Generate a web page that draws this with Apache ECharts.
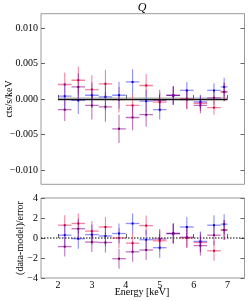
<!DOCTYPE html>
<html><head><meta charset="utf-8">
<script src="https://cdn.jsdelivr.net/npm/echarts@6/dist/echarts.min.js"></script>
<style>html,body{margin:0;padding:0;background:#fff}#c{width:249px;height:301px}</style>
</head><body><div id="c"></div><script>
// Energy bins (keV)
const energy = [2.2, 2.6, 3.0, 3.4, 3.8, 4.2, 4.6, 5.0, 5.4, 5.8, 6.2, 6.6, 6.9];
const halfWidth = [0.2, 0.2, 0.2, 0.2, 0.2, 0.2, 0.2, 0.2, 0.2, 0.2, 0.2, 0.2, 0.1];
// Top panel: cts/s/keV
const redRate = [0.00204, 0.00264, 0.00133, 0.00213, -0.0001, -0.0009, 0.0019, -0.00045, 0.0005, 0.0000, -0.0006, -0.0012, 0.0010];
const redErr = [0.0017, 0.0019, 0.0020, 0.0020, 0.0018, 0.0016, 0.0016, 0.0013, 0.0013, 0.0014, 0.0011, 0.0010, 0.0013];
const blueRate = [0.0004, -0.0002, 0.00053, 0.0003, 0.00053, 0.0024, -0.0003, -0.0015, 0.0005, 0.0012, -0.0004, 0.0012, 0.0017];
const blueErr = [0.0018, 0.0019, 0.0018, 0.0019, 0.0019, 0.0018, 0.0016, 0.0014, 0.0013, 0.0012, 0.0010, 0.0010, 0.0013];
const purpleRate = [-0.0015, 0.0017, -0.0009, -0.0011, -0.0042, -0.0026, -0.0022, -0.0002, 0.0005, -0.00007, -0.0009, 0.00017, 0.0010];
const purpleErr = [0.0016, 0.0019, 0.0020, 0.0021, 0.0020, 0.0018, 0.0017, 0.0015, 0.0013, 0.0013, 0.0011, 0.0010, 0.0013];
// Bottom panel: (data-model)/error
const redResid = [1.28, 1.45, 0.69, 1.1, 0.0, -0.52, 1.24, -0.28, 0.45, 0.0, -0.45, -1.28, 0.8];
const blueResid = [0.28, -0.07, 0.34, 0.2, 0.45, 1.45, -0.17, -0.97, 0.45, 1.1, -0.34, 1.28, 1.38];
const purpleResid = [-0.86, 0.93, -0.41, -0.45, -2.07, -1.38, -1.2, -0.1, 0.45, 0.07, -0.76, 0.28, 0.8];
const residErr = 1;
// Model
const modelX = [2.0, 7.0];
const modelY = [-0.0001, -0.0001];
// Ticks
const xTicks = [2, 3, 4, 5, 6, 7];
const yTopTicks = [-0.010, -0.005, 0.000, 0.005, 0.010];
const yBotTicks = [-4, -2, 0, 2, 4];

const FONT = 'Liberation Serif';
const minus = s => String(s).replace('-', '\u2212');

function pts(rate, err) {
  return energy.map((e, i) => [e, rate[i], halfWidth[i], err[i]]);
}
function residPts(res) {
  return energy.map((e, i) => [e, res[i], halfWidth[i], residErr]);
}
function crossSeries(data, xi, yi, line, center) {
  return {
    type: 'custom', xAxisIndex: xi, yAxisIndex: yi, data: data, clip: true, z: 3,
    renderItem: function (params, api) {
      const x = api.value(0), y = api.value(1), dx = api.value(2), dy = api.value(3);
      const l = api.coord([x - dx, y]), r = api.coord([x + dx, y]);
      const t = api.coord([x, y + dy]), b = api.coord([x, y - dy]);
      const c = api.coord([x, y]);
      return {
        type: 'group', children: [
          {type: 'line', shape: {x1: l[0], y1: l[1], x2: r[0], y2: r[1]}, style: {stroke: line, lineWidth: 1.3}},
          {type: 'line', shape: {x1: t[0], y1: t[1], x2: b[0], y2: b[1]}, style: {stroke: line, lineWidth: 1.1}},
          {type: 'rect', shape: {x: c[0] - 1, y: c[1] - 1, width: 2, height: 2}, style: {fill: center}}
        ]
      };
    }
  };
}
const RED = ['rgba(240,30,80,0.55)', '#dd0035'];
const BLUE = ['rgba(30,30,255,0.5)', '#0000dd'];
const PURP = ['rgba(135,0,135,0.55)', '#7a007a'];

const tickStyle = {show: true, inside: true, length: 4, lineStyle: {color: '#666', width: 1}};
const chart = echarts.init(document.getElementById('c'), null, {renderer: 'canvas'});
chart.setOption({
  animation: false,
  backgroundColor: '#fff',
  grid: [
    {left: 41, right: 4.5, top: 13.7, height: 170.6, show: true, borderColor: '#9a9a9a', borderWidth: 1, backgroundColor: 'transparent'},
    {left: 41, right: 4.5, top: 198, height: 80, show: true, borderColor: '#9a9a9a', borderWidth: 1, backgroundColor: 'transparent'}
  ],
  xAxis: [
    {gridIndex: 0, type: 'value', min: 1.5, max: 7.5, axisLine: {show: false}, splitLine: {show: false},
     axisTick: Object.assign({customValues: xTicks}, tickStyle), axisLabel: {show: false}},
    {gridIndex: 1, type: 'value', min: 1.5, max: 7.5, axisLine: {show: false}, splitLine: {show: false},
     axisTick: Object.assign({customValues: xTicks}, tickStyle),
     axisLabel: {customValues: xTicks, fontFamily: FONT, fontSize: 10, color: '#000', margin: 2}}
  ],
  yAxis: [
    {gridIndex: 0, type: 'value', min: -0.012, max: 0.012, axisLine: {show: false}, splitLine: {show: false},
     axisTick: Object.assign({customValues: yTopTicks}, tickStyle),
     axisLabel: {customValues: yTopTicks, fontFamily: FONT, fontSize: 10, color: '#000', margin: 3,
       formatter: v => minus(Number(v).toFixed(3))}},
    {gridIndex: 0, type: 'value', position: 'right', min: -0.012, max: 0.012, axisLine: {show: false}, splitLine: {show: false},
     axisTick: Object.assign({customValues: yTopTicks}, tickStyle), axisLabel: {show: false}},
    {gridIndex: 1, type: 'value', min: -4, max: 4, interval: 2, axisLine: {show: false}, splitLine: {show: false},
     axisTick: Object.assign({customValues: yBotTicks}, tickStyle),
     axisLabel: {customValues: yBotTicks, fontFamily: FONT, fontSize: 10, color: '#000', margin: 3,
       formatter: v => minus(v)}},
    {gridIndex: 1, type: 'value', position: 'right', min: -4, max: 4, axisLine: {show: false}, splitLine: {show: false},
     axisTick: Object.assign({customValues: yBotTicks}, tickStyle), axisLabel: {show: false}}
  ],
  series: [
    {type: 'line', xAxisIndex: 0, yAxisIndex: 0, data: modelX.map((x, i) => [x, modelY[i] + 0.00012]), symbol: 'none',
     lineStyle: {color: 'rgba(120,120,120,0.6)', width: 2.5}, z: 2, silent: true},
    crossSeries(pts(redRate, redErr), 0, 0, RED[0], RED[1]),
    crossSeries(pts(blueRate, blueErr), 0, 0, BLUE[0], BLUE[1]),
    crossSeries(pts(purpleRate, purpleErr), 0, 0, PURP[0], PURP[1]),
    {type: 'line', xAxisIndex: 0, yAxisIndex: 0, data: modelX.map((x, i) => [x, modelY[i]]), symbol: 'none',
     lineStyle: {color: '#111', width: 1.3}, z: 5, silent: true},
    {type: 'line', xAxisIndex: 1, yAxisIndex: 2, data: [[1.5, 0], [7.5, 0]], symbol: 'none',
     lineStyle: {color: '#000', width: 1, type: [1.5, 1.5]}, z: 2, silent: true},
    crossSeries(residPts(redResid), 1, 2, RED[0], RED[1]),
    crossSeries(residPts(blueResid), 1, 2, BLUE[0], BLUE[1]),
    crossSeries(residPts(purpleResid), 1, 2, PURP[0], PURP[1])
  ],
  graphic: [
    {type: 'text', x: 142, y: 8, style: {text: 'Q', font: 'italic 12px "Liberation Serif"', fill: '#000', textAlign: 'center', textVerticalAlign: 'middle'}},
    {type: 'text', x: 9, y: 99, rotation: Math.PI / 2, style: {text: 'cts/s/keV', font: '10px "Liberation Serif"', fill: '#000', textAlign: 'center', textVerticalAlign: 'middle'}},
    {type: 'text', x: 20, y: 238, rotation: Math.PI / 2, style: {text: '(data-model)/error', font: '10px "Liberation Serif"', fill: '#000', textAlign: 'center', textVerticalAlign: 'middle'}},
    {type: 'text', x: 142, y: 292, style: {text: 'Energy [keV]', font: '10px "Liberation Serif"', fill: '#000', textAlign: 'center', textVerticalAlign: 'middle'}}
  ]
});
</script></body></html>
